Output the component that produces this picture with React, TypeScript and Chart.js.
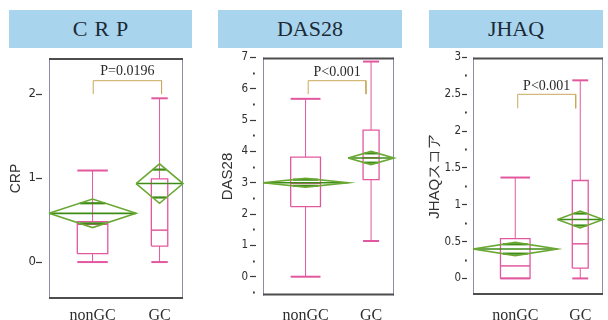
import React, { useEffect, useRef } from 'react';
import { Chart, registerables } from 'chart.js';

Chart.register(...registerables);

// ---- data -------------------------------------------------------------
const groups = ['nonGC', 'GC'];
const groupShare = [0.65, 0.35]; // relative group sizes (width of each group on the x axis)

// CRP
const crpMin = [0, 0];
const crpQ1 = [0.1, 0.19];
const crpMedian = [0.45, 0.38];
const crpQ3 = [0.48, 0.99];
const crpMax = [1.09, 1.95];
const crpMean = [0.58, 0.935];
const crpCiLow = [0.41, 0.7];
const crpCiHigh = [0.75, 1.17];
const crpTicks = [0, 1, 2];

// DAS28
const dasMin = [0, 1.14];
const dasQ1 = [2.24, 3.1];
const dasMedian = [2.98, 3.8];
const dasQ3 = [3.82, 4.68];
const dasMax = [5.68, 6.87];
const dasMean = [3.0, 3.79];
const dasCiLow = [2.86, 3.58];
const dasCiHigh = [3.14, 4.0];
const dasTicks = [-0.5, 0, 0.5, 1, 1.5, 2, 2.5, 3, 3.5, 4, 4.5, 5, 5.5, 6, 6.5, 7];

// JHAQ
const jhaqMin = [0, 0];
const jhaqQ1 = [0, 0.14];
const jhaqMedian = [0.17, 0.47];
const jhaqQ3 = [0.54, 1.33];
const jhaqMax = [1.37, 2.69];
const jhaqMean = [0.4, 0.8];
const jhaqCiLow = [0.31, 0.685];
const jhaqCiHigh = [0.49, 0.915];
const jhaqTicks = [0, 0.25, 0.5, 0.75, 1, 1.25, 1.5, 1.75, 2, 2.25, 2.5, 2.75, 3];

// ---- styling ------------------------------------------------------------
const PINK = '#e2589f';
const GREEN = '#6aa834';
const GREEN_DARK = '#3f8b17';
const BRACKET = '#c9a95c';
const HEADER_BG = '#a9d4ee';
const CANVAS_TOP = 48;
const CANVAS_H = 285;
const BOX_FRACTION = 0.35;
const SERIF = '"Liberation Serif", "Times New Roman", serif';
const NARROW = '"Liberation Sans Narrow", "DejaVu Sans Condensed", sans-serif';
const SANS = '"Liberation Sans", Arial, sans-serif';

interface Panel {
  key: string;
  header: string;
  headerSpacing: number;
  axisTitle: string;
  min: number[];
  q1: number[];
  median: number[];
  q3: number[];
  max: number[];
  mean: number[];
  ciLow: number[];
  ciHigh: number[];
  ticks: number[];
  majorStep: number;
  yMin: number;
  yMax: number;
  pLabel: string;
  bracketX: [number, number];
  bracketY: [number, number];
  pTextY: number;
  // layout
  canvasLeft: number;
  canvasWidth: number;
  chartLeft: number;
  chartRight: number;
  chartTop: number;
  chartBottom: number;
  headerLeft: number;
  headerRight: number;
  titleX: number;
  titleSize: number;
  tickSize: number;
  tickLength: number;
  tickDash: number;
  tickPad: number;
}

const panels: Panel[] = [
  {
    key: 'crp',
    header: 'CRP',
    headerSpacing: 7,
    axisTitle: 'CRP',
    min: crpMin, q1: crpQ1, median: crpMedian, q3: crpQ3, max: crpMax,
    mean: crpMean, ciLow: crpCiLow, ciHigh: crpCiHigh,
    ticks: crpTicks, majorStep: 1, yMin: -0.44, yMax: 2.43,
    pLabel: 'P=0.0196', bracketX: [0.33, 0.84], bracketY: [2.0, 2.16], pTextY: 2.27,
    canvasLeft: 0, canvasWidth: 192, chartLeft: 49, chartRight: 183, chartTop: 58, chartBottom: 299,
    headerLeft: 9, headerRight: 192, titleX: 16.5, titleSize: 14,
    tickSize: 13, tickLength: 13, tickDash: 6, tickPad: 0,
  },
  {
    key: 'das',
    header: 'DAS28',
    headerSpacing: 0,
    axisTitle: 'DAS28',
    min: dasMin, q1: dasQ1, median: dasMedian, q3: dasQ3, max: dasMax,
    mean: dasMean, ciLow: dasCiLow, ciHigh: dasCiHigh,
    ticks: dasTicks, majorStep: 1, yMin: -0.6, yMax: 7,
    pLabel: 'P<0.001', bracketX: [0.345, 0.786], bracketY: [5.83, 6.26], pTextY: 6.54,
    canvasLeft: 200, canvasWidth: 200, chartLeft: 263, chartRight: 394, chartTop: 57.5, chartBottom: 295.5,
    headerLeft: 218, headerRight: 402, titleX: 227.5, titleSize: 15,
    tickSize: 11.5, tickLength: 13, tickDash: 6, tickPad: 2,
  },
  {
    key: 'jhaq',
    header: 'JHAQ',
    headerSpacing: 0,
    axisTitle: 'JHAQスコア',
    min: jhaqMin, q1: jhaqQ1, median: jhaqMedian, q3: jhaqQ3, max: jhaqMax,
    mean: jhaqMean, ciLow: jhaqCiLow, ciHigh: jhaqCiHigh,
    ticks: jhaqTicks, majorStep: 0.5, yMin: -0.225, yMax: 3,
    pLabel: 'P<0.001', bracketX: [0.344, 0.79], bracketY: [2.31, 2.5], pTextY: 2.61,
    canvasLeft: 400, canvasWidth: 208, chartLeft: 473, chartRight: 603, chartTop: 57.5, chartBottom: 295,
    headerLeft: 429, headerRight: 603, titleX: 435, titleSize: 15,
    tickSize: 11.5, tickLength: 11, tickDash: 5, tickPad: 1,
  },
];

// ---- helpers ------------------------------------------------------------
type Pt = { x: number; y: number };

function path(points: Pt[], color: string, width: number, order: number) {
  return {
    data: points,
    showLine: true,
    borderColor: color,
    backgroundColor: color,
    borderWidth: width,
    pointRadius: 0,
    pointHoverRadius: 0,
    fill: false,
    tension: 0,
    clip: false as const,
    order,
  };
}

function groupCenters(): number[] {
  let start = 0;
  return groupShare.map((s) => {
    const c = start + s / 2;
    start += s;
    return c;
  });
}

function buildDatasets(p: Panel) {
  const sets: any[] = [];
  let start = 0;
  groups.forEach((_, g) => {
    const share = groupShare[g];
    const x0 = start;
    const x1 = start + share;
    const xc = (x0 + x1) / 2;
    const hw = (share * BOX_FRACTION) / 2;
    start = x1;

    // quantile box + whiskers
    sets.push(path([{ x: xc, y: p.q3[g] }, { x: xc, y: p.max[g] }], PINK, 1, 2));
    sets.push(path([{ x: xc, y: p.min[g] }, { x: xc, y: p.q1[g] }], PINK, 1, 2));
    sets.push(path([{ x: xc - hw, y: p.max[g] }, { x: xc + hw, y: p.max[g] }], PINK, 2, 2));
    sets.push(path([{ x: xc - hw, y: p.min[g] }, { x: xc + hw, y: p.min[g] }], PINK, 2, 2));
    sets.push(
      path(
        [
          { x: xc - hw, y: p.q1[g] },
          { x: xc + hw, y: p.q1[g] },
          { x: xc + hw, y: p.q3[g] },
          { x: xc - hw, y: p.q3[g] },
          { x: xc - hw, y: p.q1[g] },
        ],
        PINK,
        1.3,
        2
      )
    );
    sets.push(path([{ x: xc - hw, y: p.median[g] }, { x: xc + hw, y: p.median[g] }], PINK, 1.5, 2));

    // means diamond: mean line, 95% CI points, overlap marks
    const m = p.mean[g];
    sets.push(
      path(
        [
          { x: x0, y: m },
          { x: xc, y: p.ciHigh[g] },
          { x: x1, y: m },
          { x: xc, y: p.ciLow[g] },
          { x: x0, y: m },
        ],
        GREEN,
        1.6,
        0
      )
    );
    sets.push(path([{ x: x0, y: m }, { x: x1, y: m }], GREEN_DARK, 1.6, 0));
    const half = (share / 2) * (1 - Math.SQRT1_2);
    const up = m + (p.ciHigh[g] - m) * Math.SQRT1_2;
    const dn = m - (m - p.ciLow[g]) * Math.SQRT1_2;
    sets.push(path([{ x: xc - half, y: up }, { x: xc + half, y: up }], GREEN_DARK, 2.2, 0));
    sets.push(path([{ x: xc - half, y: dn }, { x: xc + half, y: dn }], GREEN_DARK, 2.2, 0));
  });

  // comparison bracket
  const [bx0, bx1] = p.bracketX;
  const [leg, top] = p.bracketY;
  sets.push(
    path(
      [
        { x: bx0, y: leg },
        { x: bx0, y: top },
        { x: bx1, y: top },
        { x: bx1, y: leg },
      ],
      BRACKET,
      1,
      1
    )
  );
  return sets;
}

function PanelChart({ p }: { p: Panel }) {
  const ref = useRef<HTMLCanvasElement>(null);

  useEffect(() => {
    const canvas = ref.current;
    if (!canvas) return;
    const centers = groupCenters();
    const isMajor = (v: number) => Math.abs(v / p.majorStep - Math.round(v / p.majorStep)) < 1e-6;
    const titleFontLine = p.titleSize * 1.2;

    const framePlugin = {
      id: 'frame-' + p.key,
      beforeDatasetsDraw(chart: any) {
        const { ctx, chartArea: a } = chart;
        ctx.save();
        ctx.strokeStyle = '#8d8ca8';
        ctx.lineWidth = 1;
        ctx.beginPath();
        ctx.moveTo(a.left + 0.5, a.top);
        ctx.lineTo(a.left + 0.5, a.bottom);
        ctx.moveTo(a.right - 0.5, a.top);
        ctx.lineTo(a.right - 0.5, a.bottom);
        ctx.stroke();
        ctx.strokeStyle = '#4d4d4d';
        ctx.lineWidth = 2;
        ctx.beginPath();
        ctx.moveTo(a.left, a.top + 1);
        ctx.lineTo(a.right, a.top + 1);
        ctx.moveTo(a.left, a.bottom - 1);
        ctx.lineTo(a.right, a.bottom - 1);
        ctx.stroke();
        ctx.restore();
      },
      afterDatasetsDraw(chart: any) {
        const { ctx, scales } = chart;
        const x = scales.x.getPixelForValue((p.bracketX[0] + p.bracketX[1]) / 2);
        const y = scales.y.getPixelForValue(p.pTextY);
        ctx.save();
        ctx.font = `14px ${SERIF}`;
        ctx.fillStyle = '#2a2a2a';
        ctx.textAlign = 'center';
        ctx.textBaseline = 'middle';
        ctx.fillText(p.pLabel, x, y);
        ctx.restore();
      },
    };

    const chart = new Chart(canvas, {
      type: 'scatter',
      data: { datasets: buildDatasets(p) },
      options: {
        responsive: false,
        animation: false,
        devicePixelRatio: 1,
        events: [],
        layout: {
          padding: {
            left: 0,
            right: p.canvasLeft + p.canvasWidth - p.chartRight,
            top: p.chartTop - CANVAS_TOP,
            bottom: 0,
          },
        },
        plugins: {
          legend: { display: false },
          tooltip: { enabled: false },
        },
        scales: {
          x: {
            type: 'linear',
            min: 0,
            max: 1,
            afterBuildTicks: (s: any) => {
              s.ticks = centers.map((v) => ({ value: v }));
            },
            afterFit: (s: any) => {
              s.height = CANVAS_TOP + CANVAS_H - p.chartBottom;
            },
            ticks: {
              callback: (_v: any, i: number) => groups[i],
              autoSkip: false,
              maxRotation: 0,
              minRotation: 0,
              padding: 306 - p.chartBottom,
              color: '#2e2e2e',
              font: { family: SERIF, size: 16 },
            },
            grid: { display: false, drawTicks: false },
            border: { display: false },
          },
          y: {
            type: 'linear',
            min: p.yMin,
            max: p.yMax,
            afterBuildTicks: (s: any) => {
              s.ticks = p.ticks.map((v) => ({ value: v }));
            },
            afterFit: (s: any) => {
              s.width = p.chartLeft - p.canvasLeft;
            },
            ticks: {
              callback: (v: any) => (isMajor(Number(v)) ? String(v) : ''),
              autoSkip: false,
              padding: p.tickPad,
              color: '#2e2e2e',
              font: { family: NARROW, size: p.tickSize },
            },
            grid: {
              display: true,
              drawOnChartArea: false,
              drawTicks: true,
              tickLength: p.tickLength,
              tickColor: '#3a3a3a',
              tickWidth: (c: any) => (isMajor(c.tick.value) ? 1.2 : 1.8),
              tickBorderDash: (c: any) =>
                isMajor(c.tick.value) ? [p.tickDash, 40] : [0, 3, 1.8, 40],
            },
            border: { display: false },
            title: {
              display: true,
              text: p.axisTitle,
              color: '#333',
              font: { family: SANS, size: p.titleSize },
              padding: { top: p.titleX - p.canvasLeft - titleFontLine / 2, bottom: 0 },
            },
          },
        },
      } as any,
      plugins: [framePlugin],
    });

    return () => chart.destroy();
  }, [p]);

  return (
    <canvas
      ref={ref}
      width={p.canvasWidth}
      height={CANVAS_H}
      style={{
        position: 'absolute',
        left: p.canvasLeft,
        top: CANVAS_TOP,
        width: p.canvasWidth,
        height: CANVAS_H,
      }}
    />
  );
}

export default function App() {
  return (
    <div
      style={{
        position: 'absolute',
        left: 0,
        top: 0,
        width: 608,
        height: 320,
        overflow: 'hidden',
        background: '#ffffff',
      }}
    >
      {panels.map((p) => (
        <React.Fragment key={p.key}>
          <div
            style={{
              position: 'absolute',
              left: p.headerLeft,
              top: 10,
              width: p.headerRight - p.headerLeft,
              height: 38,
              lineHeight: '38px',
              background: HEADER_BG,
              color: '#1c2a36',
              fontFamily: SERIF,
              fontSize: 22,
              textAlign: 'center',
              letterSpacing: p.headerSpacing,
              paddingLeft: p.headerSpacing,
              boxSizing: 'border-box',
            }}
          >
            {p.header}
          </div>
          <PanelChart p={p} />
        </React.Fragment>
      ))}
    </div>
  );
}
